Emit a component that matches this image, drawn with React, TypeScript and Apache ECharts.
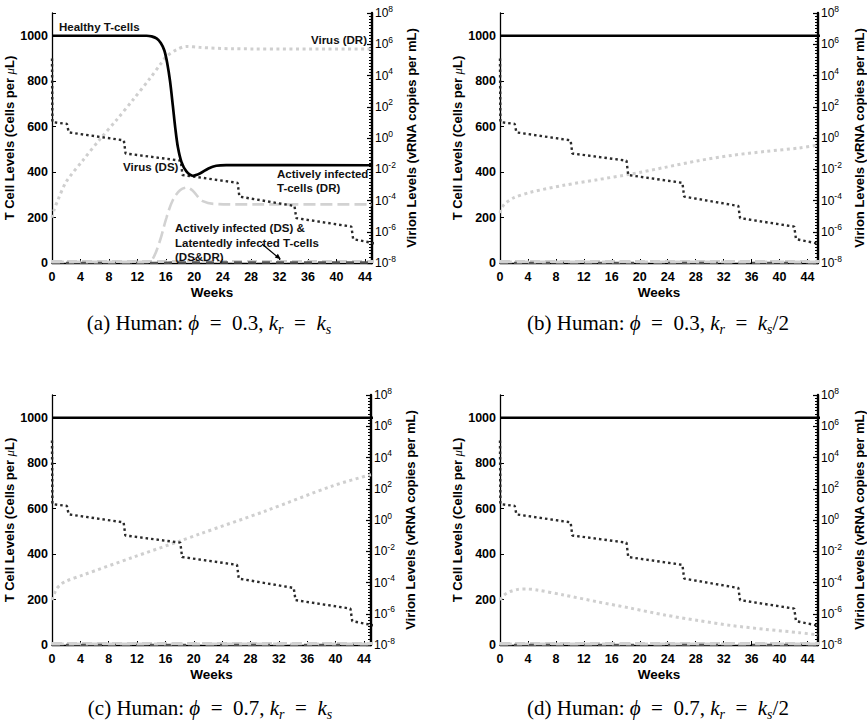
import React, { useEffect, useRef } from "react";
import * as echarts from "echarts";

const FONT = '"Liberation Sans", Arial, Helvetica, sans-serif';
const SERIF = '"Liberation Serif", "DejaVu Serif", "Times New Roman", serif';

// ---------- data (weeks, value) ----------
// T cells per microlitre (left axis)
const healthyA: [number, number][] = [
  [0, 1000], [13.3, 1000], [14, 997], [14.7, 988], [15.3, 968], [15.8, 935], [16.2, 880],
  [16.6, 800], [17, 690], [17.35, 590], [17.7, 510], [18.2, 445], [18.9, 403], [19.8, 384],
  [20.8, 394], [22, 416], [23.1, 428], [24.5, 431], [45, 430],
];
const healthyFlat: [number, number][] = [[0, 1000], [46, 1000]];

const activeDRA: [number, number][] = [
  [0, 5], [13.5, 5], [14.2, 20], [15.2, 100], [16.1, 200], [17, 277], [18, 320], [19, 332],
  [19.8, 318], [20.5, 292], [21.2, 272], [22.7, 260], [25.5, 258], [45, 258],
];
const activeDRFlat: [number, number][] = [[0, 5], [46, 5]];

const latentAll: [number, number][] = [[0, 7], [46, 7]];
const activeDSA: [number, number][] = [[0, 0], [15.5, 0], [17, 2.5], [45, 2.5]];
const activeDSFlat: [number, number][] = [[0, 0], [46, 0]];

// Virion levels, log10 of vRNA copies per mL (right axis)
const virusDSLog: [number, number][] = [
  [0, 5.09], [0.05, 1.02], [2.1, 0.9], [2.35, 0.36], [10.1, -0.15], [10.35, -0.99],
  [18.1, -1.45], [18.35, -2.37], [26.1, -2.87], [26.35, -3.75], [34.1, -4.35],
  [34.35, -5.13], [42.1, -5.67], [42.35, -6.47], [45.5, -6.76],
];
const virusDRLogA: [number, number][] = [
  [0, -5.1], [0.3, -4.6], [0.85, -3.95], [2, -2.8], [4.4, -1.4], [6.7, -0.1], [9.1, 1.17],
  [11.4, 2.45], [13.8, 3.83], [15.2, 4.69], [16.1, 5.22], [17.5, 5.65], [18.9, 5.86],
  [20.8, 5.8], [25.5, 5.71], [45, 5.69],
];
const virusDRLogB: [number, number][] = [
  [0, -4.8], [0.25, -4.48], [0.7, -4.2], [1.9, -3.84], [4.3, -3.48], [9.1, -3.03],
  [13.9, -2.67], [18.75, -2.31], [23.6, -1.88], [28.4, -1.45], [33.2, -1.11], [38, -0.86],
  [42.8, -0.64], [45.5, -0.45],
];
const virusDRLogC: [number, number][] = [
  [0, -5.12], [0.6, -4.44], [1.3, -4.1], [2, -3.91], [4.36, -3.52], [11.4, -2.39],
  [18, -1.35], [20.8, -0.9], [30.2, 0.59], [39.5, 2.17], [44.7, 2.87], [45, 2.9],
];
const virusDRLogD: [number, number][] = [
  [0, -5.12], [0.6, -4.8], [1.4, -4.59], [2.6, -4.44], [3.8, -4.42], [5.3, -4.48],
  [9.1, -4.8], [13.9, -5.23], [18.75, -5.65], [23.6, -6.08], [28.4, -6.44], [33.2, -6.76],
  [38, -7.0], [42.8, -7.21], [45.5, -7.36],
];

const SP = "\u2002";
const captions = [
  `{n|(a) Human: }{i|ϕ}{n|${SP}=${SP}0.3, }{i|k}{s|r}{n|${SP}=${SP}}{i|k}{s|s}`,
  `{n|(b) Human: }{i|ϕ}{n|${SP}=${SP}0.3, }{i|k}{s|r}{n|${SP}=${SP}}{i|k}{s|s}{n|/2}`,
  `{n|(c) Human: }{i|ϕ}{n|${SP}=${SP}0.7, }{i|k}{s|r}{n|${SP}=${SP}}{i|k}{s|s}`,
  `{n|(d) Human: }{i|ϕ}{n|${SP}=${SP}0.7, }{i|k}{s|r}{n|${SP}=${SP}}{i|k}{s|s}{n|/2}`,
];

// ---------- layout ----------
const panels = [
  { left: 52, top: 13, width: 320, xMax: 45, healthy: healthyA, activeDR: activeDRA, activeDS: activeDSA, virusDR: virusDRLogA, cx: 209, cy: 323, rGap: 33 },
  { left: 500, top: 13, width: 318, xMax: 45.5, healthy: healthyFlat, activeDR: activeDRFlat, activeDS: activeDSFlat, virusDR: virusDRLogB, cx: 658, cy: 323, rGap: 35 },
  { left: 52, top: 395, width: 319, xMax: 45, healthy: healthyFlat, activeDR: activeDRFlat, activeDS: activeDSFlat, virusDR: virusDRLogC, cx: 210, cy: 708, rGap: 33 },
  { left: 500, top: 395, width: 318, xMax: 45.5, healthy: healthyFlat, activeDR: activeDRFlat, activeDS: activeDSFlat, virusDR: virusDRLogD, cx: 658, cy: 708, rGap: 35 },
];

function buildOption() {
  const grid: any[] = [];
  const xAxis: any[] = [];
  const yAxis: any[] = [];
  const series: any[] = [];
  const graphic: any[] = [];

  panels.forEach((p, i) => {
    grid.push({ left: p.left, top: p.top, width: p.width, height: 250 });
    xAxis.push({
      gridIndex: i, type: "value", min: 0, max: p.xMax, interval: 4,
      axisLine: { onZero: false, lineStyle: { color: "#000", width: 1.3 } },
      axisTick: { inside: true, length: 4, lineStyle: { color: "#000", width: 1 } },
      axisLabel: {
        color: "#000", fontWeight: "bold", fontSize: 12.5, fontFamily: FONT, margin: 7,
        formatter: (v: number) => (v % 4 === 0 ? String(v) : ""),
      },
      splitLine: { show: false },
      name: "Weeks", nameLocation: "middle", nameGap: 22,
      nameTextStyle: { color: "#000", fontWeight: "bold", fontSize: 13.5, fontFamily: FONT },
    });
    yAxis.push({
      gridIndex: i, type: "value", position: "left", min: 0, max: 1100, interval: 200,
      axisLine: { show: true, lineStyle: { color: "#000", width: 1.3 } },
      axisTick: { show: true, inside: true, length: 4, lineStyle: { color: "#000" } },
      axisLabel: {
        color: "#000", fontWeight: "bold", fontSize: 12.5, fontFamily: FONT, margin: 4,
        formatter: (v: number) => (v % 200 === 0 ? String(v) : ""),
      },
      splitLine: { show: false },
      name: "{t|T Cell Levels (Cells per }{m|μ}{t|L)}",
      nameLocation: "middle", nameGap: 33,
      nameTextStyle: {
        rich: {
          t: { color: "#000", fontWeight: "bold", fontSize: 13, fontFamily: FONT },
          m: { color: "#000", fontStyle: "italic", fontSize: 13, fontFamily: SERIF },
        },
      },
    });
    yAxis.push({
      gridIndex: i, type: "value", position: "right", min: -8, max: 8, interval: 2,
      axisLine: { show: true, lineStyle: { color: "#000", width: 2.4 } },
      axisTick: { show: true, inside: true, length: 5, lineStyle: { color: "#000", width: 1.2 } },
      minorTick: { show: true, splitNumber: 10, length: 3, lineStyle: { color: "#000", width: 1 } },
      axisLabel: {
        margin: 3,
        formatter: (v: number) => `{b|10}{e|${v}}`,
        rich: {
          b: { color: "#000", fontSize: 12, fontFamily: FONT, lineHeight: 18, verticalAlign: "middle" },
          e: { color: "#000", fontSize: 8.5, fontFamily: FONT, lineHeight: 9, verticalAlign: "top" },
        },
      },
      splitLine: { show: false },
      name: "Virion Levels (vRNA copies per mL)",
      nameLocation: "middle", nameGap: p.rGap,
      nameTextStyle: { color: "#000", fontWeight: "bold", fontSize: 13, fontFamily: FONT },
    });

    const base = { type: "line", xAxisIndex: i, showSymbol: false, symbol: "none", silent: true };
    series.push(
      { ...base, name: "Latently infected T-cells", yAxisIndex: 2 * i, data: latentAll,
        lineStyle: { color: "#cfcfcf", width: 3, type: [10, 5] } },
      { ...base, name: "Actively infected (DS)", yAxisIndex: 2 * i, data: p.activeDS,
        lineStyle: { color: "#555", width: 2.5, type: [8, 6] } },
      { ...base, name: "Actively infected T-cells (DR)", yAxisIndex: 2 * i, data: p.activeDR, smooth: 0.35,
        lineStyle: { color: "#d2d2d2", width: 2.6, type: [12, 5] } },
      { ...base, name: "Virus (DR)", yAxisIndex: 2 * i + 1, data: p.virusDR, smooth: 0.3,
        lineStyle: { color: "#cfcfcf", width: 3, type: [3, 3.5] } },
      { ...base, name: "Virus (DS)", yAxisIndex: 2 * i + 1, data: virusDSLog,
        lineStyle: { color: "#2a2a2a", width: 2.4, type: [2.5, 3] } },
      { ...base, name: "Healthy T-cells", yAxisIndex: 2 * i, data: p.healthy, smooth: 0.3,
        lineStyle: { color: "#000", width: 2.7 } },
    );

    graphic.push({
      type: "text", x: p.cx, y: p.cy,
      style: {
        text: captions[i], textAlign: "center", textVerticalAlign: "middle",
        rich: {
          n: { fill: "#000", fontSize: 21, fontFamily: SERIF, lineHeight: 27, verticalAlign: "middle" },
          i: { fill: "#000", fontSize: 21, fontStyle: "italic", fontFamily: SERIF, lineHeight: 27, verticalAlign: "middle" },
          s: { fill: "#000", fontSize: 14, fontStyle: "italic", fontFamily: SERIF, lineHeight: 13, verticalAlign: "bottom" },
        },
      },
    });
  });

  const ann = (text: string, x: number, y: number, align = "left") => ({
    type: "text", x, y, z: 100,
    style: { text, fill: "#111", font: `bold 11.5px ${FONT}`, textAlign: align, textVerticalAlign: "middle" },
  });
  graphic.push(
    ann("Healthy T-cells", 59, 27),
    ann("Virus (DR)", 367, 40, "right"),
    ann("Virus (DS)", 123, 167),
    ann("Actively infected", 277, 174),
    ann("T-cells (DR)", 277, 188),
    ann("Actively infected (DS) &", 175, 228),
    ann("Latentedly infected T-cells", 175, 243),
    ann("(DS&DR)", 175, 257),
    { type: "line", z: 100, shape: { x1: 262, y1: 244, x2: 277, y2: 256.5 }, style: { stroke: "#000", lineWidth: 1.2 } },
    { type: "polygon", z: 100, shape: { points: [[281, 259.5], [274.8, 257.6], [277.9, 253.8]] }, style: { fill: "#000" } },
  );

  return {
    animation: false,
    backgroundColor: "#fff",
    grid, xAxis, yAxis, series, graphic,
  };
}

export default function App() {
  const ref = useRef<HTMLDivElement>(null);
  useEffect(() => {
    if (!ref.current) return;
    const chart = echarts.init(ref.current, undefined, { renderer: "svg" });
    chart.setOption(buildOption() as any);
    return () => chart.dispose();
  }, []);
  return (
    <div
      ref={ref}
      style={{ position: "absolute", left: 0, top: 0, width: 867, height: 722, background: "#fff" }}
    />
  );
}
